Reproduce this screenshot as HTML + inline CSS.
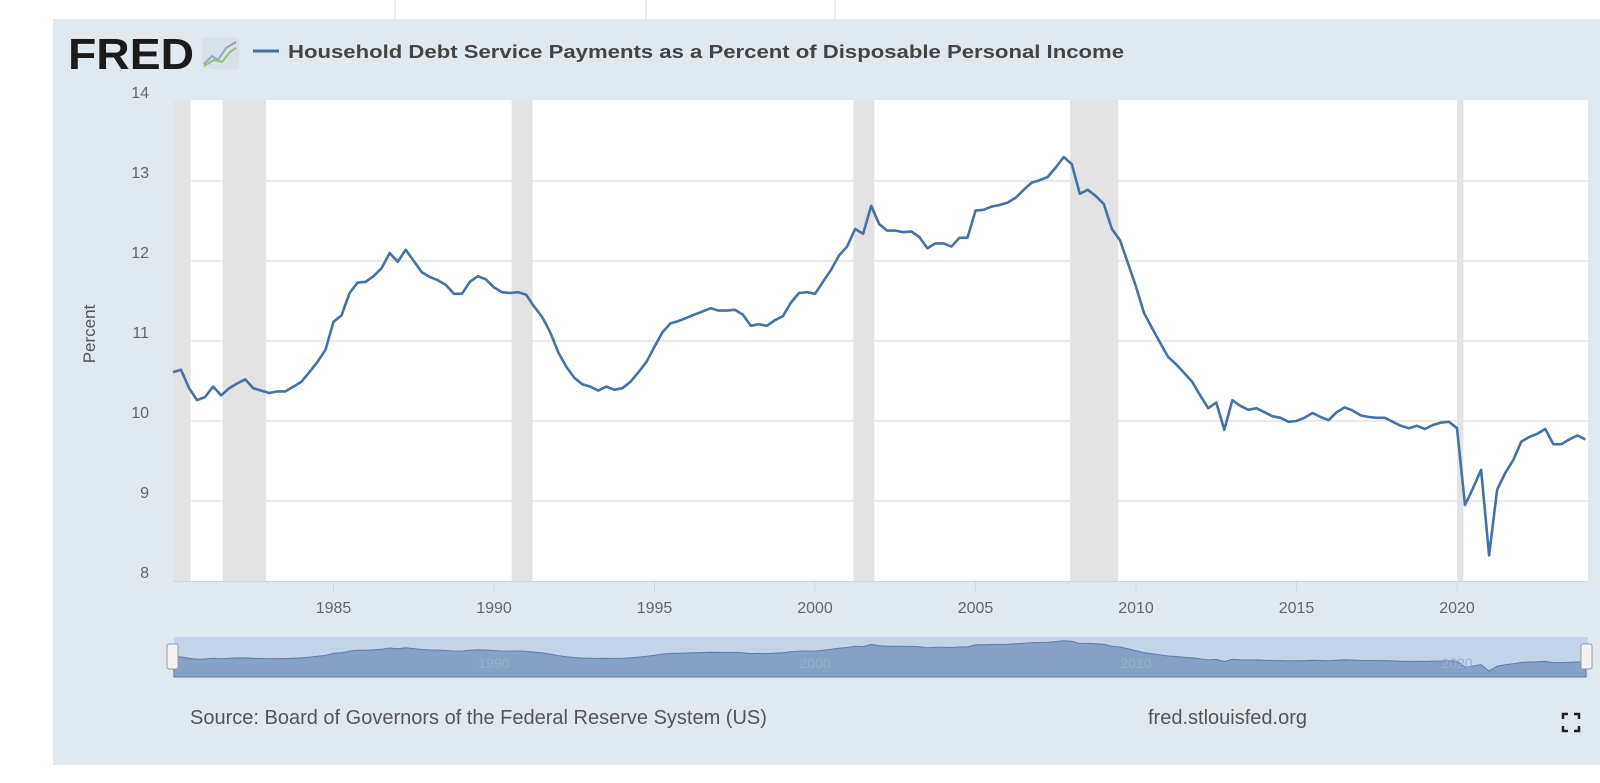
<!DOCTYPE html>
<html><head><meta charset="utf-8"><style>
html,body{margin:0;padding:0;background:#fff;width:1600px;height:783px;overflow:hidden;font-family:"Liberation Sans",sans-serif;}
svg{display:block}
</style></head><body>
<svg id="chart" width="1600" height="783" viewBox="0 0 1600 783" xmlns="http://www.w3.org/2000/svg" font-family="Liberation Sans, sans-serif">
<line x1="395" y1="0" x2="395" y2="19" stroke="#ddd"/>
<line x1="646" y1="0" x2="646" y2="19" stroke="#ddd"/>
<line x1="835" y1="0" x2="835" y2="19" stroke="#ddd"/>
<rect x="53" y="19" width="1547" height="746" fill="#e1e9f0"/>
<text x="68" y="69" font-size="44" font-weight="bold" fill="#1b1b1b" textLength="126" lengthAdjust="spacingAndGlyphs">FRED</text>
<g>
<rect x="202" y="37" width="37" height="32" rx="3" fill="#d8e0e8"/>
<polyline points="204,64 212,56 218,60 226,48 236,42" fill="none" stroke="#8fa8c8" stroke-width="2"/>
<polyline points="204,66 214,60 222,62 230,52 236,48" fill="none" stroke="#9bbf7a" stroke-width="2"/>
</g>
<line x1="253" y1="51" x2="279" y2="51" stroke="#4572a7" stroke-width="3"/>
<text x="288" y="58" font-size="18.5" font-weight="bold" fill="#444" textLength="836" lengthAdjust="spacingAndGlyphs">Household Debt Service Payments as a Percent of Disposable Personal Income</text>
<rect x="173" y="100" width="1415" height="481" fill="#fff"/>
<g id="rec"></g><g id="grid"></g><g id="axes"></g><g id="series"></g>
<text transform="translate(95,334) rotate(-90)" text-anchor="middle" font-size="17" fill="#555">Percent</text>
<g>
<rect x="174" y="637" width="1414" height="40" fill="#c5d3e8"/>
<g id="nav"></g>
<rect x="167" y="644" width="11" height="25" rx="2" fill="#f2f2f2" stroke="#999"/>
<rect x="1581" y="644" width="11" height="25" rx="2" fill="#f2f2f2" stroke="#999"/>
</g>
<text x="190" y="724" font-size="20" fill="#555">Source: Board of Governors of the Federal Reserve System (US)</text>
<text x="1148" y="724" font-size="20" fill="#555">fred.stlouisfed.org</text>
<g stroke="#222" stroke-width="2.5" fill="none">
<polyline points="1563,719 1563,714 1568,714"/><polyline points="1574,714 1579,714 1579,719"/>
<polyline points="1563,726 1563,731 1568,731"/><polyline points="1574,731 1579,731 1579,726"/>
</g>
</svg>
<script>
const values = [10.61,10.64,10.41,10.26,10.30,10.43,10.32,10.41,10.47,10.52,10.41,10.38,10.35,10.37,10.37,10.43,10.49,10.61,10.74,10.89,11.24,11.32,11.6,11.73,11.74,11.81,11.91,12.1,11.99,12.14,12.0,11.86,11.8,11.76,11.7,11.59,11.59,11.74,11.81,11.77,11.67,11.61,11.6,
11.61,11.58,11.43,11.3,11.11,10.86,10.68,10.54,10.46,10.43,10.38,10.43,10.39,10.41,10.49,10.61,10.74,10.93,11.11,11.22,11.25,11.29,11.33,11.37,11.41,11.38,11.38,11.39,11.33,11.19,11.21,11.19,11.26,11.31,11.48,11.6,11.61,11.59,11.74,11.89,12.07,12.18,12.4,
12.34,12.69,12.46,12.38,12.38,12.36,12.37,12.3,12.16,12.22,12.22,12.18,12.29,12.29,12.63,12.64,12.68,12.7,12.73,12.79,12.89,12.98,13.01,13.05,13.17,13.3,13.21,12.84,12.89,12.81,12.71,12.4,12.26,11.97,11.68,11.35,11.16,10.98,10.8,10.71,10.6,10.49,10.32,
10.16,10.23,9.89,10.26,10.19,10.14,10.16,10.11,10.06,10.04,9.99,10.0,10.04,10.1,10.05,10.01,10.11,10.17,10.13,10.07,10.05,10.04,10.04,9.99,9.94,9.91,9.94,9.9,9.95,9.98,9.99,9.91,8.95,9.16,9.39,8.32,9.14,9.35,9.51,9.74,9.8,9.84,9.9,9.71,9.71,9.77,9.82,9.77];
const startYear = 1980;
const yTicks = [8,9,10,11,12,13,14];
const xTicks = [1985,1990,1995,2000,2005,2010,2015,2020];
const recStart = [1980.0,1981.55,1990.55,2001.2,2007.95,2020.0];
const recEnd   = [1980.55,1982.9,1991.2,2001.85,2009.45,2020.2];
const NS='http://www.w3.org/2000/svg';
const xS = yr => 173 + (yr - 1980) * 32.1;
const yS = v => 101 + (14 - v) * 80;
const nyS = v => 659 - (v - 10.3) * 6.1;
function mk(tag, attrs, parent){const e=document.createElementNS(NS,tag);for(const k in attrs)e.setAttribute(k,attrs[k]);document.getElementById(parent).appendChild(e);return e;}
recStart.forEach((s,i)=>{
  const r=mk('rect',{x:xS(s),y:100,width:xS(recEnd[i])-xS(s),height:481,fill:'#e3e3e3'},'rec');
  
  
});
yTicks.forEach(t=>{
  if(t<14&&t>8){const l=mk('line',{x1:173,x2:1588,y1:yS(t),y2:yS(t),stroke:'#e4e4e4','stroke-width':1.5},'grid');
  
  }
  const tx=mk('text',{x:149,y:yS(t)-3,'text-anchor':'end','font-size':16,fill:'#666'},'axes');
  tx.textContent=t;
  
  
});
const ax=mk('line',{x1:173,x2:1588,y1:581.5,y2:581.5,stroke:'#ccd6eb'},'axes');


xTicks.forEach(t=>{
  const tk=mk('line',{x1:xS(t),x2:xS(t),y1:582,y2:592,stroke:'#ccd6eb'},'axes');
  
  
  const tx=mk('text',{x:xS(t),y:613,'text-anchor':'middle','font-size':16,fill:'#666'},'axes');
  tx.textContent=t;
  
  
});
const pts=values.map((v,i)=>xS(startYear+i/4).toFixed(1)+','+yS(v).toFixed(1)).join(' ');
const pl=mk('polyline',{points:pts,fill:'none',stroke:'#4572a7','stroke-width':2.6,'stroke-linejoin':'round'},'series');


const npts=values.map((v,i)=>xS(startYear+i/4).toFixed(1)+','+nyS(v).toFixed(1));
const na=mk('polygon',{points:'174,677 '+npts.join(' ')+' 1586,677',fill:'#86a0c6',stroke:'#5a7fb0','stroke-width':1},'nav');


[1990,2000,2010,2020].forEach(t=>{
  const tx=mk('text',{x:xS(t),y:668,'text-anchor':'middle','font-size':14,fill:'#9aaed0'},'nav');
  tx.textContent=t;
  
  
});
</script>
</body></html>
